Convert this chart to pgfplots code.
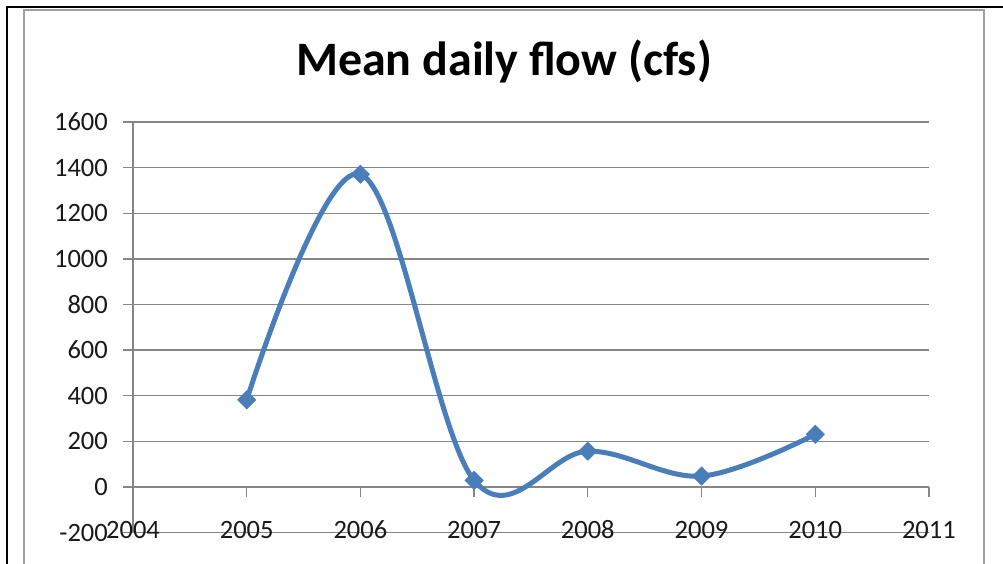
\documentclass[border=0pt]{standalone}
\usepackage{fontspec}
\setmainfont{Carlito}
\usepackage{pgfplots}
\pgfplotsset{compat=1.18}
\definecolor{serblue}{HTML}{4A7EBB}
\definecolor{gridgray}{HTML}{868686}
\definecolor{framegray}{HTML}{A0A0A0}
\begin{document}
\begin{tikzpicture}
\path[use as bounding box] (0bp,0bp) rectangle (1003bp,-564bp);
\fill[white] (0bp,0bp) rectangle (1003bp,-564bp);
\draw[black, line width=2.2bp] (7bp,-564bp) -- (7bp,-7bp) -- (1003bp,-7bp);
\draw[framegray, line width=2bp] (24bp,-564bp) -- (24bp,-10bp) -- (984bp,-10bp) -- (984bp,-564bp);
\node[anchor=base, font=\fontsize{48bp}{52bp}\selectfont\bfseries] at (504bp,-75bp) {Mean daily flow (cfs)};
\begin{axis}[
  at={(133bp,-532.6bp)}, anchor=south west,
  scale only axis, width=796bp, height=410.6bp,
  xmin=2004, xmax=2011, ymin=-200, ymax=1600,
  axis y line=left,
  axis x line=middle,
  axis line style={gridgray, line width=1.3bp, -},
  hide obscured x ticks=false,
  hide obscured y ticks=false,
  xtick={2004,...,2011},
  ytick={-200,0,...,1600},
  ymajorgrids,
  grid style={gridgray, line width=1.3bp},
  tick style={gridgray, line width=1.3bp},
  major tick length=10bp,
  tick align=outside,
  /pgf/number format/assume math mode=true,
  /pgf/number format/1000 sep={},
  ticklabel style={font=\fontsize{26.5bp}{30bp}\selectfont, text=black!90},
  xticklabel style={anchor=center, inner sep=0pt, yshift=-33bp},
  yticklabel style={anchor=east, inner sep=0pt, xshift=-15bp},
  clip=false,
]
\addplot[serblue, line width=5bp, smooth, tension=0.6,
  mark=square*, mark size=6.5bp, mark options={rotate=45, fill=serblue, draw=serblue, line width=0.5bp}]
  coordinates {(2005,382) (2006,1371) (2007,29) (2008,157) (2009,48) (2010,231)};
\end{axis}
\end{tikzpicture}
\end{document}
